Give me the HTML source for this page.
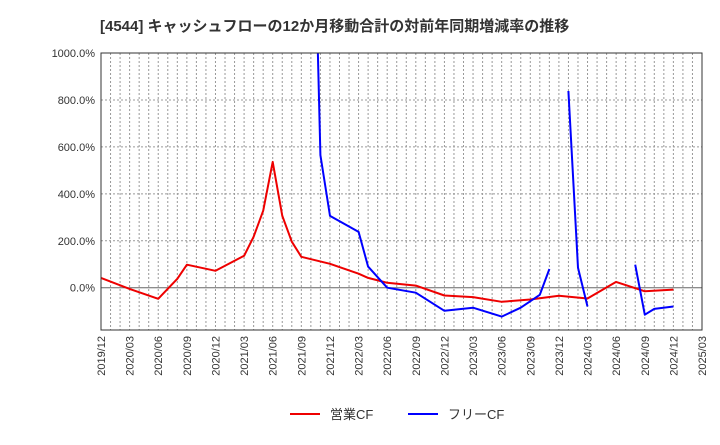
<!DOCTYPE html>
<html><head><meta charset="utf-8"><style>
body{margin:0;background:#fff;font-family:"Liberation Sans","Noto Sans CJK JP",sans-serif;}
</style></head><body>
<svg id="c" width="720" height="440" xmlns="http://www.w3.org/2000/svg">
<text x="100" y="31" font-size="15" font-weight="bold" fill="#333" font-family="Liberation Sans, Noto Sans CJK JP, sans-serif">[4544]  キャッシュフローの12か月移動合計の対前年同期増減率の推移</text>
<g id="grid"></g><g id="series"></g><g id="axes"></g>
<g>
<line x1="290" y1="414" x2="320" y2="414" stroke="#e00" stroke-width="2"/>
<text x="330" y="419" font-size="13" fill="#333">営業CF</text>
<line x1="408" y1="414" x2="438" y2="414" stroke="#00f" stroke-width="2"/>
<text x="448" y="419" font-size="13" fill="#333">フリーCF</text>
</g>
</svg>
<script>
const tickLabels=["2019/12","2020/03","2020/06","2020/09","2020/12","2021/03","2021/06","2021/09","2021/12","2022/03","2022/06","2022/09","2022/12","2023/03","2023/06","2023/09","2023/12","2024/03","2024/06","2024/09","2024/12","2025/03"];
const yTicks=[0,200,400,600,800,1000];
// month offsets from 2019/12
const redMonths=[0,3,6,8,9,12,15,16,17,18,19,20,21,24,27,28,30,33,36,39,42,45,48,51,54,57,60];
const redValues=[42,-5,-47,38,98,72,136,217,328,536,306,196,132,102,60,42,21,9,-33,-40,-60,-50,-34,-46,25,-15,-8];
const blueMonths=[22,23,24,27,28,30,33,36,39,42,44,46,47,null,49,50,51,null,56,57,58,60];
const blueValues=[2200,565,306,238,90,0,-21,-98,-85,-123,-85,-30,80,null,838,85,-80,null,98,-115,-90,-80];
const L=101,R=702,T=53,B=330,yMin=-180,yMax=1000,nMonths=63;
const X=m=>L+(R-L)*m/nMonths;
const Y=v=>B-(B-T)*(v-yMin)/(yMax-yMin);
const NS="http://www.w3.org/2000/svg";
function mk(tag,attrs,parent){const e=document.createElementNS(NS,tag);for(const k in attrs)e.setAttribute(k,attrs[k]);parent.appendChild(e);return e;}
const grid=document.getElementById('grid'),axes=document.getElementById('axes'),series=document.getElementById('series');
for(let m=1;m<nMonths;m++){const l=mk('line',{x1:X(m),x2:X(m),y1:T,y2:B,stroke:'#999','stroke-dasharray':'2,2','stroke-width':1},grid);

}
yTicks.forEach(v=>{const l=mk('line',{x1:L,x2:R,y1:Y(v),y2:Y(v),stroke:v===0?'#666':'#999','stroke-dasharray':v===0?'':'2,2','stroke-width':1},grid);


const t=mk('text',{x:L-6,y:Y(v)+4,'text-anchor':'end','font-size':11,fill:'#333'},axes);t.textContent=v.toFixed(1)+'%';

});
tickLabels.forEach((s,i)=>{const x=X(i*3);const t=mk('text',{x:0,y:0,'text-anchor':'end','font-size':11,fill:'#333',transform:`translate(${x+4},${B+6}) rotate(-90)`},axes);t.textContent=s;

});
const fr=mk('rect',{x:L,y:T,width:R-L,height:B-T,fill:'none',stroke:'#333','stroke-width':1},axes);


const cp=mk('clipPath',{id:'clip'},series);mk('rect',{x:L,y:T,width:R-L,height:B-T},cp);
function draw(ms,vs,color,name){let segs=[],cur=[];ms.forEach((m,i)=>{if(m===null||vs[i]===null){if(cur.length)segs.push(cur);cur=[];}else cur.push(X(m).toFixed(1)+','+Y(vs[i]).toFixed(1));});if(cur.length)segs.push(cur);
segs.forEach(s=>{const p=mk('polyline',{points:s.join(' '),fill:'none',stroke:color,'stroke-width':2,'clip-path':'url(#clip)','stroke-linejoin':'round'},series);

});}
draw(redMonths,redValues,'#e00','operating-cf-line');
draw(blueMonths,blueValues,'#00f','free-cf-line');
</script>
</body></html>
